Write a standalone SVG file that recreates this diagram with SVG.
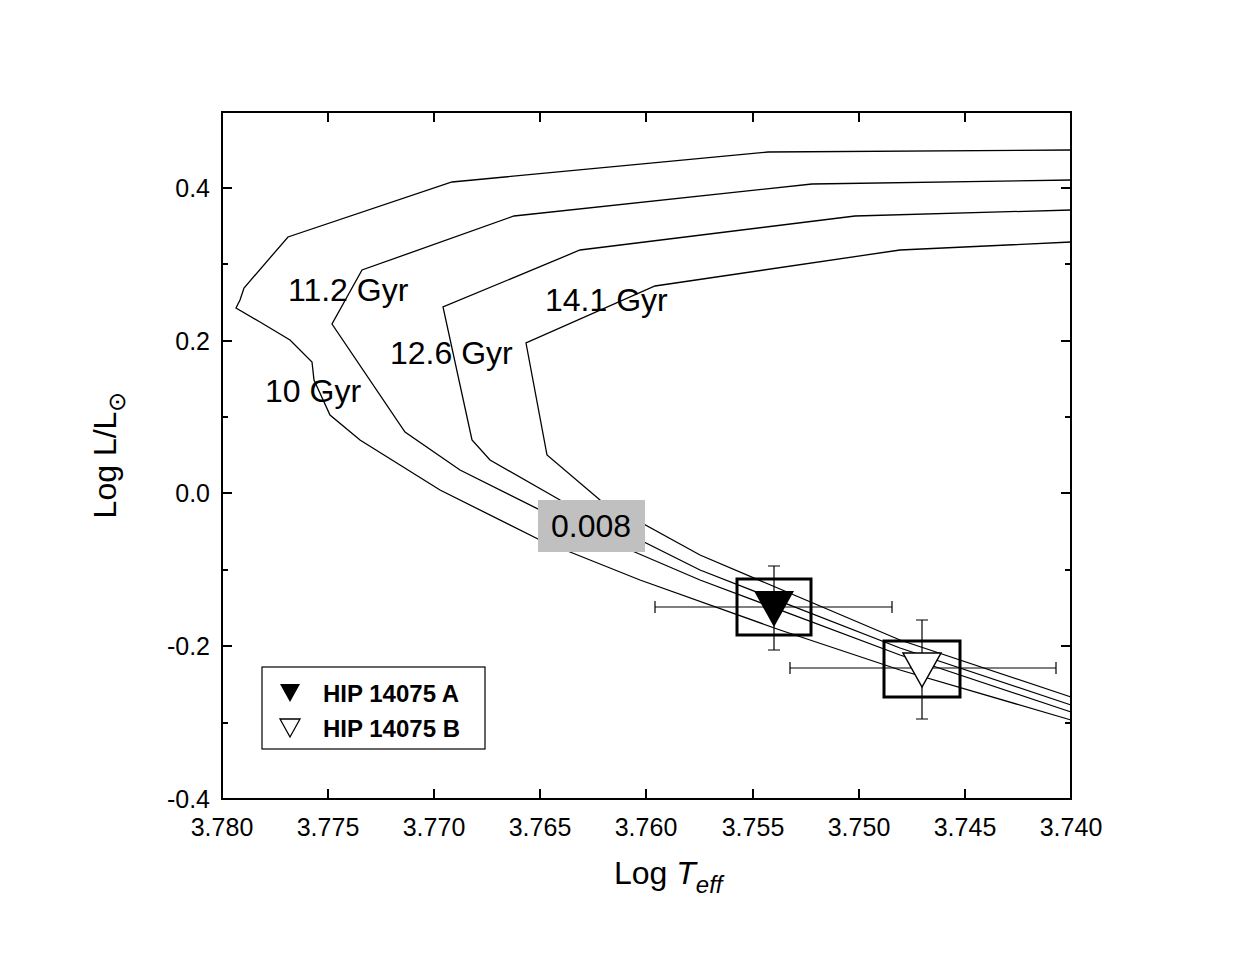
<svg xmlns="http://www.w3.org/2000/svg" width="1246" height="959" viewBox="0 0 1246 959">
<style>
text{font-family:"Liberation Sans",Arial,sans-serif;fill:#000}
.t{font-size:25px}
.l{font-size:32px}
.c{fill:none;stroke:#000;stroke-width:1.3}
.e{stroke:#000;stroke-width:1.2}
</style>
<rect width="1246" height="959" fill="#fff"/>
<g id="axes" stroke="#000" stroke-width="2" fill="none">
<rect x="222" y="112" width="849" height="687"/>
<path d="M222 188h10M222 341h10M222 493h10M222 646h10M222 264h6M222 417h6M222 570h6M222 723h6M1071 188h-10M1071 341h-10M1071 493h-10M1071 646h-10M1071 264h-6M1071 417h-6M1071 570h-6M1071 723h-6"/>
<path d="M328 799v-10M434 799v-10M540 799v-10M646 799v-10M753 799v-10M859 799v-10M965 799v-10M328 112v10M434 112v10M540 112v10M646 112v10M753 112v10M859 112v10M965 112v10"/>
</g>
<g id="ticklabels" class="t">
<text x="210" y="197" text-anchor="end">0.4</text>
<text x="210" y="350" text-anchor="end">0.2</text>
<text x="210" y="502" text-anchor="end">0.0</text>
<text x="210" y="655" text-anchor="end">-0.2</text>
<text x="210" y="808" text-anchor="end">-0.4</text>
<text x="222" y="836" text-anchor="middle">3.780</text>
<text x="328" y="836" text-anchor="middle">3.775</text>
<text x="434" y="836" text-anchor="middle">3.770</text>
<text x="540" y="836" text-anchor="middle">3.765</text>
<text x="646" y="836" text-anchor="middle">3.760</text>
<text x="753" y="836" text-anchor="middle">3.755</text>
<text x="859" y="836" text-anchor="middle">3.750</text>
<text x="965" y="836" text-anchor="middle">3.745</text>
<text x="1071" y="836" text-anchor="middle">3.740</text>
</g>
<text class="l" x="614" y="884">Log <tspan font-style="italic">T</tspan><tspan font-style="italic" font-size="24" dy="9">eff</tspan></text>
<g transform="translate(116,455) rotate(-90)">
<text class="l" x="0" y="0" text-anchor="middle">Log L/L<tspan font-size="24" dy="9">⊙</tspan></text>
</g>
<g id="connectors">
<polyline class="c" points="1071,150 768,152 452,182 288,237 244,288 240,300 236,308 260,322 290,340 312,362 314,380 330,415 360,440 440,490 540,540 640,580 780,630 900,670 1071,720"/>
<polyline class="c" points="1071,180 812,184 514,216 362,270 332,324 405,432 460,470 560,520 700,580 900,655 1071,712"/>
<polyline class="c" points="1071,210 855,216 580,250 443,307 472,440 490,460 560,500 700,570 900,648 1071,705"/>
<polyline class="c" points="1071,242 900,250 655,286 526,343 547,455 600,500 700,555 900,640 1071,697"/>
</g>
<g id="labels" class="l">
<text x="288" y="301">11.2 Gyr</text>
<text x="545" y="311">14.1 Gyr</text>
<text x="390" y="364">12.6 Gyr</text>
<text x="265" y="402">10 Gyr</text>
</g>
<g id="z">
<rect x="538" y="500" width="107" height="52" fill="#c0c0c0"/>
<text class="l" x="591" y="537" text-anchor="middle">0.008</text>
</g>
<g id="starA">
<path class="e" d="M655 607H892M655 601v12M892 601v12M774 566V650M768 566h12M768 650h12"/>
<rect x="737" y="579" width="74" height="56" fill="none" stroke="#000" stroke-width="3"/>
<path d="M754 591H794L774 627Z" fill="#000"/>
</g>
<g id="starB">
<path class="e" d="M790 668H1056M790 662v12M1056 662v12M922 620V719M916 620h12M916 719h12"/>
<rect x="884" y="641" width="76" height="56" fill="none" stroke="#000" stroke-width="3"/>
<path d="M903 653H941L922 687Z" fill="#fff" stroke="#000" stroke-width="1.5"/>
</g>
<g id="legend">
<rect x="262" y="667" width="223" height="82" fill="#fff" stroke="#000" stroke-width="1.2"/>
<path d="M280 684H300L290 702Z" fill="#000"/>
<path d="M280 719H300L290 737Z" fill="#fff" stroke="#000" stroke-width="1.3"/>
<text x="323" y="702" font-size="24" font-weight="bold">HIP 14075 A</text>
<text x="323" y="737" font-size="24" font-weight="bold">HIP 14075 B</text>
</g>
</svg>
